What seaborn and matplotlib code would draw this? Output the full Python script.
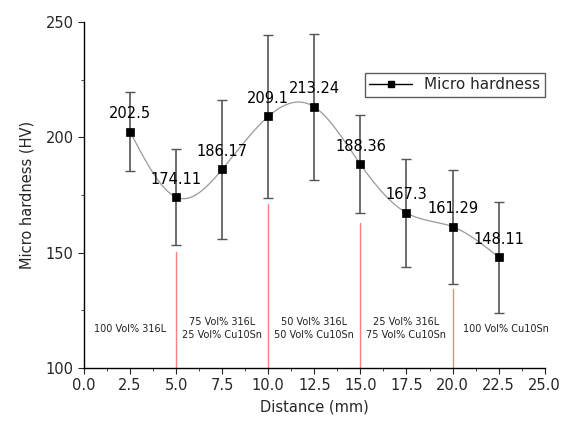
import numpy as np
import pandas as pd
import matplotlib
matplotlib.use("Agg")
import matplotlib.pyplot as plt
from matplotlib.lines import Line2D
from matplotlib.ticker import MultipleLocator
import seaborn as sns

# ---- data ----
distance = [2.5, 5.0, 7.5, 10.0, 12.5, 15.0, 17.5, 20.0, 22.5]
hardness = [202.5, 174.11, 186.17, 209.1, 213.24, 188.36, 167.3, 161.29, 148.11]
hardness_err = [17.2, 20.9, 30.2, 35.4, 31.5, 21.3, 23.5, 24.7, 24.1]
labels = ["202.5", "174.11", "186.17", "209.1", "213.24", "188.36", "167.3", "161.29", "148.11"]

# zone boundaries (red lines) and how high they reach
boundary_x = [5.0, 10.0, 15.0, 20.0]
boundary_top = [150.5, 171.0, 163.0, 134.5]

# zone composition notes
zone_x = [2.5, 7.5, 12.5, 17.5, 22.9]
zone_text = ["100 Vol% 316L",
             "75 Vol% 316L\n25 Vol% Cu10Sn",
             "50 Vol% 316L\n50 Vol% Cu10Sn",
             "25 Vol% 316L\n75 Vol% Cu10Sn",
             "100 Vol% Cu10Sn"]


def natural_spline(x, y, n=300):
    # natural cubic spline for the smooth connecting curve
    x = np.asarray(x, float)
    y = np.asarray(y, float)
    k = len(x)
    h = np.diff(x)
    A = np.zeros((k, k))
    b = np.zeros(k)
    A[0, 0] = A[-1, -1] = 1
    for i in range(1, k - 1):
        A[i, i - 1] = h[i - 1]
        A[i, i] = 2 * (h[i - 1] + h[i])
        A[i, i + 1] = h[i]
        b[i] = 6 * ((y[i + 1] - y[i]) / h[i] - (y[i] - y[i - 1]) / h[i - 1])
    M = np.linalg.solve(A, b)
    xs = np.linspace(x[0], x[-1], n)
    idx = np.clip(np.searchsorted(x, xs) - 1, 0, k - 2)
    x0, x1 = x[idx], x[idx + 1]
    hh = x1 - x0
    ys = (M[idx] * (x1 - xs) ** 3 / (6 * hh) + M[idx + 1] * (xs - x0) ** 3 / (6 * hh)
          + (y[idx] / hh - M[idx] * hh / 6) * (x1 - xs)
          + (y[idx + 1] / hh - M[idx + 1] * hh / 6) * (xs - x0))
    return xs, ys


sns.set_style("ticks")
plt.rcParams['font.family'] = ['DejaVu Sans']

fig = plt.figure(figsize=(5.71, 4.26), dpi=100)
ax = fig.add_axes([0.147, 0.136, 0.807, 0.812])

df = pd.DataFrame({"distance": distance, "hardness": hardness})

# smooth curve
xs, ys = natural_spline(distance, hardness)
curve = pd.DataFrame({"x": xs, "y": ys})
sns.lineplot(data=curve, x="x", y="y", ax=ax, color="#999999", lw=0.9, zorder=2)

# red zone boundaries
for bx, bt in zip(boundary_x, boundary_top):
    ax.plot([bx, bx], [100, bt], color="#ff7f7f", lw=1.0, zorder=1)

# error bars
ax.errorbar(distance, hardness, yerr=hardness_err, fmt="none",
            ecolor="#555555", elinewidth=1.2, capsize=3.5, capthick=1.0, zorder=3)

# markers
sns.scatterplot(data=df, x="distance", y="hardness", ax=ax, marker="s",
                color="black", s=40, edgecolor="black", zorder=4)

# value labels
for x, y, t in zip(distance, hardness, labels):
    ax.annotate(t, (x, y), xytext=(0, 13), textcoords="offset points",
                ha="center", va="center", fontsize=10.5, color="black", zorder=5)

# composition notes
for x, t in zip(zone_x, zone_text):
    ax.text(x, 117, t, ha="center", va="center", fontsize=7,
            linespacing=1.35, color="#222222")

ax.set_xlim(0, 25)
ax.set_ylim(100, 250)
ax.xaxis.set_major_locator(MultipleLocator(2.5))
ax.xaxis.set_minor_locator(MultipleLocator(1.25))
ax.yaxis.set_major_locator(MultipleLocator(50))
ax.yaxis.set_minor_locator(MultipleLocator(25))
ax.xaxis.set_major_formatter(matplotlib.ticker.FormatStrFormatter("%.1f"))
ax.tick_params(axis="both", which="major", direction="out", length=4, labelsize=10.5)
ax.tick_params(axis="both", which="minor", direction="out", length=2.5)

ax.set_xlabel("Distance (mm)", fontsize=10.5)
ax.set_ylabel("Micro hardness (HV)", fontsize=10.5, labelpad=8)

sns.despine(ax=ax)
for s in ["left", "bottom"]:
    ax.spines[s].set_color("black")
    ax.spines[s].set_linewidth(1.0)

handle = Line2D([], [], color="black", marker="s", markersize=5, lw=1.0)
leg = fig.legend([handle], ["Micro hardness"], loc="upper right",
                 bbox_to_anchor=(0.968, 0.847), fontsize=11, frameon=True,
                 fancybox=False, handlelength=2.8, borderpad=0.3)
leg.get_frame().set_edgecolor("#333333")
leg.get_frame().set_linewidth(1.0)

fig.savefig("out.png", dpi=100)
